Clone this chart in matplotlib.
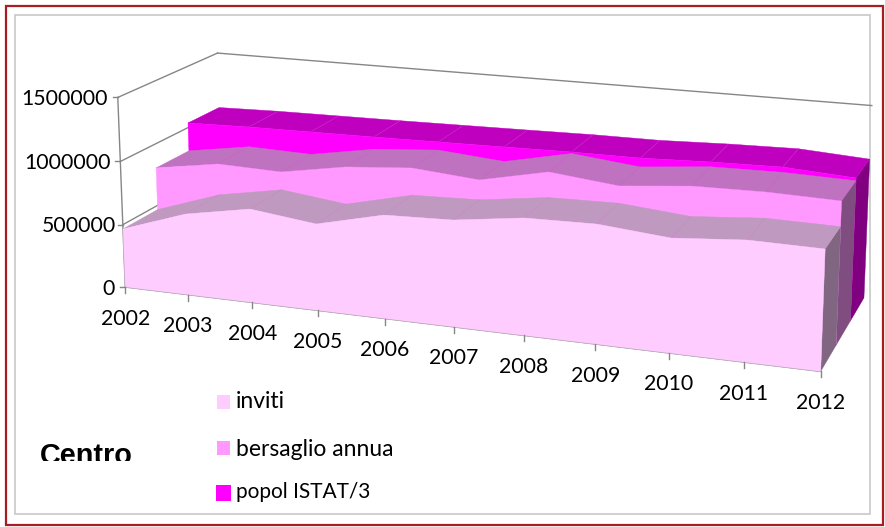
import numpy as np
import matplotlib; matplotlib.use('Agg')
import matplotlib.pyplot as plt
from matplotlib.patches import Rectangle, Polygon

plt.rcParams['font.family'] = ['Lato', 'DejaVu Sans']

years = [2002, 2003, 2004, 2005, 2006, 2007, 2008, 2009, 2010, 2011, 2012]
inviti = [466, 639, 732, 671, 794, 811, 881, 891, 845, 887, 880]
bersaglio = [806, 888, 874, 964, 1006, 964, 1076, 1021, 1072, 1080, 1067]
popol = [1038, 1051, 1057, 1063, 1071, 1079, 1088, 1090, 1109, 1120, 1088]
series_names = ['inviti', 'bersaglio annua', 'popol ISTAT/3']
value_ticks = [0, 500000, 1000000, 1500000]

# face colours per series: front, top, end
styles = [('#FFCCFF', '#BF99BF', '#806680'),
          ('#FF99FF', '#BF72BF', '#804D80'),
          ('#FF00FF', '#BF00BF', '#800080')]

# Excel's 3D camera: fit a projection from (year idx, value/1e6, depth) to pixels
anchors = [(0,0,0,126,286),(1,0,0,189,295),(2,0,0,252,303),(3,0,0,318,312),(4,0,0,384,320),(5,0,0,454,328),
           (6,0,0,523,336),(7,0,0,595,345),(8,0,0,668,353),(9,0,0,743,362),(10,0,0,821,371),
           (0,.5,0,122,223),(0,1,0,121,161),(0,1.5,0,118,97),(0,1.5,1,217,53),(10,1.5,1,872,107),
           (10,0,1/3,837,343),(10,0,2/3,852,318),(10,0,1,863,299)]
A = []
for t, v, d, x, y in anchors:
    A.append([t,v,d,1,0,0,0,0,-x*t,-x*v,-x*d,-x])
    A.append([0,0,0,0,t,v,d,1,-y*t,-y*v,-y*d,-y])
P = np.linalg.svd(np.array(A))[2][-1].reshape(3, 4)

def proj(t, v, d):
    h = P @ np.array([t, v/1e6, d, 1.0])
    return h[0]/h[2], h[1]/h[2]

fig = plt.figure(figsize=(8.85, 5.27), dpi=100)
ax = fig.add_axes([0, 0, 1, 1])
ax.set_xlim(0, 885); ax.set_ylim(527, 0); ax.axis('off')

# outer frames
ax.add_patch(Rectangle((6, 5.5), 877, 519.5, fill=False, ec='#A81C24', lw=1.6, zorder=1))
ax.add_patch(Rectangle((14.5, 14.5), 855.5, 499.5, fill=False, ec='#C8C8C8', lw=1.2, zorder=1))

# walls: left wall gridlines, back top edge, front value axis
grid = '#868686'
for val in value_ticks[1:]:
    ax.plot(*zip(proj(0, val, 0), proj(0, val, 1)), color=grid, lw=1, zorder=2)
ax.plot(*zip(proj(0, 1500000, 1), proj(10, 1500000, 1)), color=grid, lw=1, zorder=2)
ax.plot(*zip(proj(0, 0, 0), proj(0, 1500000, 0)), color=grid, lw=1, zorder=2)
ax.plot(*zip(proj(0, 0, 0), proj(10, 0, 0)), color=grid, lw=1, zorder=2)

# areas back to front
data = [inviti, bersaglio, popol]
z = 3
for k in [2, 1, 0]:
    vals = np.array(data[k])*1000
    d0, d1 = k/3, (k+1)/3
    front_c, top_c, end_c = styles[k]
    # end cap on the right
    cap = [proj(10, 0, d0), proj(10, vals[10], d0), proj(10, vals[10], d1), proj(10, 0, d1)]
    ax.add_patch(Polygon(cap, fc=end_c, ec=end_c, lw=0.3, zorder=z))
    # top surface, one strip per year
    for i in range(10):
        strip = [proj(i, vals[i], d0), proj(i+1, vals[i+1], d0), proj(i+1, vals[i+1], d1), proj(i, vals[i], d1)]
        ax.add_patch(Polygon(strip, fc=top_c, ec=top_c, lw=0.3, zorder=z))
    for i in range(1, 10):
        ax.plot(*zip(proj(i, vals[i], d0), proj(i, vals[i], d1)), color='#E060E0', lw=0.3, alpha=0.45, zorder=z)
    # front face
    face = [proj(0, 0, d0)] + [proj(i, vals[i], d0) for i in range(11)] + [proj(10, 0, d0)]
    ax.add_patch(Polygon(face, fc=front_c, ec=front_c, lw=0.3, zorder=z))
    z += 1

# axis ticks and labels
for i, yr in enumerate(years):
    x, y = proj(i, 0, 0)
    ax.plot([x, x], [y, y+6], color=grid, lw=1, zorder=8)
    ax.text(x, y+31.5, str(yr), ha='center', va='center', fontsize=15.3, color='black')
label_dx = [-11, -7, -10, -10]
for val, dx in zip(value_ticks, label_dx):
    x, y = proj(0, val, 0)
    ax.plot([x-5, x], [y, y], color=grid, lw=1, zorder=8)
    ax.text(x+dx, y+1.5, str(val), ha='right', va='center', fontsize=15.3, color='black')

# legend
swatches = [(217, 395, 13, 14), (217, 441, 13, 14), (216, 485, 15, 16)]
label_y = [401, 449, 492]
label_size = [16.5, 16.5, 15]
for k in range(3):
    ax.add_patch(Rectangle(swatches[k][:2], swatches[k][2], swatches[k][3], fc=styles[k][0], ec='none', zorder=8))
    ax.text(236, label_y[k], series_names[k], va='center', fontsize=label_size[k], color='black')

# title is clipped by its own text box in the original
t = ax.text(40, 463.5, 'Centro', fontsize=20.8, fontweight='bold', family='Liberation Sans', va='baseline', color='black')
t.set_clip_on(True)
t.set_clip_path(Rectangle((30, 430), 120, 31, transform=ax.transData))

fig.savefig('out.png', dpi=100)
